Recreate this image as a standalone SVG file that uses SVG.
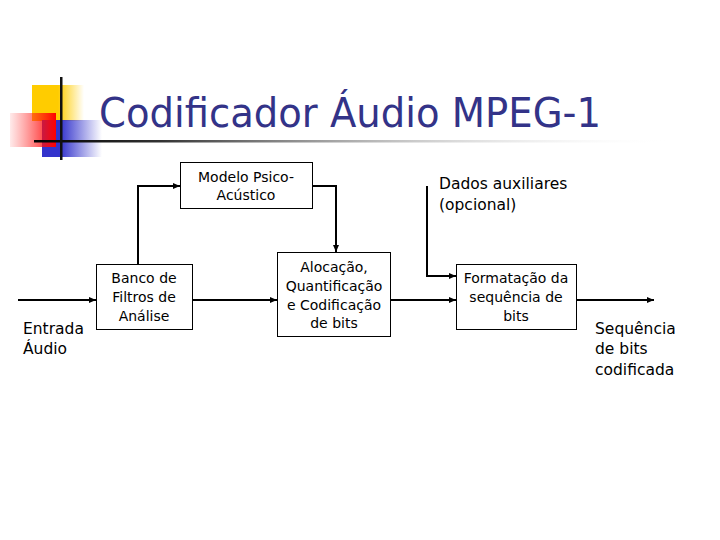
<svg xmlns="http://www.w3.org/2000/svg" width="720" height="540" viewBox="0 0 720 540">
<defs>
<linearGradient id="gY" x1="0" y1="0" x2="1" y2="0"><stop offset="0.5" stop-color="#FFCC00"/><stop offset="1" stop-color="#FFCC00" stop-opacity="0"/></linearGradient>
<linearGradient id="gB" x1="0" y1="0" x2="1" y2="0"><stop offset="0.3" stop-color="#3333CC"/><stop offset="1" stop-color="#3333CC" stop-opacity="0"/></linearGradient>
<linearGradient id="gR" x1="0" y1="0" x2="1" y2="0"><stop offset="0" stop-color="#FF3333" stop-opacity="0.1"/><stop offset="1" stop-color="#FF0000"/></linearGradient>
<linearGradient id="gL" x1="0" y1="0" x2="1" y2="0"><stop offset="0" stop-color="#000"/><stop offset="0.2" stop-color="#333"/><stop offset="1" stop-color="#fff" stop-opacity="0"/></linearGradient>
<marker id="ah" markerWidth="8" markerHeight="8" refX="7" refY="4" orient="auto" markerUnits="userSpaceOnUse"><path d="M0,1 L7,4 L0,7 Z" fill="#000"/></marker>
</defs>
<style>
.box{fill:#fff;stroke:#000;stroke-width:1}
.t{font-family:"DejaVu Sans",sans-serif;font-size:14px;fill:#000;text-anchor:middle}
.lbl{font-family:"DejaVu Sans",sans-serif;font-size:15.5px;fill:#000}
.ca{fill:none;stroke:#000;stroke-width:2;marker-end:url(#ah)}
</style>
<g id="logo">
<rect x="32" y="85" width="52" height="36" fill="url(#gY)"/>
<rect x="42" y="120" width="60" height="37" fill="url(#gB)"/>
<rect x="10" y="113" width="46" height="34" fill="url(#gR)"/>
<rect x="34" y="140" width="640" height="2.5" fill="url(#gL)"/>
<rect x="60" y="77" width="2.5" height="83" fill="#111"/>
</g>
<text id="title" x="99" y="127" font-family="'DejaVu Sans',sans-serif" font-size="40" fill="#333388" textLength="502" lengthAdjust="spacingAndGlyphs">Codificador Áudio MPEG-1</text>
<g id="connectors">
<path class="ca" d="M18,300 H96"/>
<path class="ca" d="M192,300 H277"/>
<path class="ca" d="M138,264 V186 H180"/>
<path class="ca" d="M313,186 H336 V252"/>
<path class="ca" d="M391,300 H456"/>
<path class="ca" d="M427,186 V276 H456"/>
<path class="ca" d="M577,300 H654"/>
</g>
<g id="modelo">
<rect class="box" x="180.5" y="162.5" width="132" height="46"/>
<text class="t" x="246" y="182">Modelo Psico-</text>
<text class="t" x="246" y="200">Acústico</text>
</g>
<g id="banco">
<rect class="box" x="96.5" y="264.5" width="96" height="65"/>
<text class="t" x="144" y="283">Banco de</text>
<text class="t" x="144" y="302">Filtros de</text>
<text class="t" x="144" y="321">Análise</text>
</g>
<g id="alocacao">
<rect class="box" x="277.5" y="252.5" width="113" height="84"/>
<text class="t" x="334" y="272">Alocação,</text>
<text class="t" x="334" y="291">Quantificação</text>
<text class="t" x="334" y="310">e Codificação</text>
<text class="t" x="334" y="328">de bits</text>
</g>
<g id="formatacao">
<rect class="box" x="456.5" y="264.5" width="120" height="65"/>
<text class="t" x="516" y="283">Formatação da</text>
<text class="t" x="516" y="302">sequência de</text>
<text class="t" x="516" y="321">bits</text>
</g>
<g id="entrada">
<text class="lbl" x="23" y="334">Entrada</text>
<text class="lbl" x="23" y="354">Áudio</text>
</g>
<g id="dados">
<text class="lbl" x="439" y="189">Dados auxiliares</text>
<text class="lbl" x="439" y="210">(opcional)</text>
</g>
<g id="saida">
<text class="lbl" x="595" y="334">Sequência</text>
<text class="lbl" x="595" y="354">de bits</text>
<text class="lbl" x="595" y="375">codificada</text>
</g>
</svg>
